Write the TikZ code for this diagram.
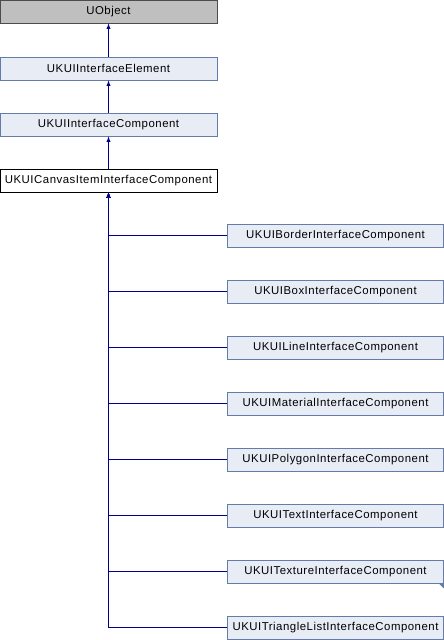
\documentclass[tikz,border=0pt]{standalone}
\usepackage{fontspec}
\setmainfont{Liberation Sans}[LetterSpace=4.5]
\usetikzlibrary{arrows,shapes}
\definecolor{boxfill}{RGB}{232,236,245}
\definecolor{boxline}{RGB}{100,124,170}
\definecolor{edgeblue}{RGB}{0,0,140}
\tikzstyle{cls}=[rectangle,draw=boxline,fill=boxfill,line width=0.8pt,inner sep=0pt,minimum height=23pt,font=\fontsize{11.4}{13}\selectfont]
\tikzstyle{topcls}=[cls,minimum width=217pt]
\tikzstyle{subcls}=[cls,minimum width=216pt]
\tikzstyle{inherit}=[<-,>=latex,draw=edgeblue,line width=0.9pt]

\begin{document}
\begin{tikzpicture}[x=1pt,y=-1pt]
\useasboundingbox (0,0) rectangle (444,640);
\node[topcls,draw=black!70,fill=black!25] (U) at (108.5,11.5) {UObject};
\node[topcls] (E) at (108.5,68.5) {UKUIInterfaceElement};
\node[topcls] (I) at (108.5,124.5) {UKUIInterfaceComponent};
\node[topcls,draw=black,fill=white] (C) at (108.5,180.5) {UKUICanvasItemInterfaceComponent};
\node[subcls] (Bo) at (335.5,235.5) {UKUIBorderInterfaceComponent};
\node[subcls] (Bx) at (335.5,291.5) {UKUIBoxInterfaceComponent};
\node[subcls] (Li) at (335.5,347.5) {UKUILineInterfaceComponent};
\node[subcls] (Ma) at (335.5,403.5) {UKUIMaterialInterfaceComponent};
\node[subcls] (Po) at (335.5,459.5) {UKUIPolygonInterfaceComponent};
\node[subcls] (Te) at (335.5,515.5) {UKUITextInterfaceComponent};
\node[subcls] (Tx) at (335.5,571.5) {UKUITextureInterfaceComponent};
\node[subcls] (Tr) at (335.5,627.5) {UKUITriangleListInterfaceComponent};
\fill[boxline] ([xshift=-5pt]Tx.south east)--(Tx.south east)--([yshift=-5pt]Tx.south east)--cycle;
\draw[inherit](U)--(E);\draw[inherit](E)--(I);\draw[inherit](I)--(C);
\draw[inherit](C)|-(Bo);\draw[inherit](C)|-(Bx);\draw[inherit](C)|-(Li);
\draw[inherit](C)|-(Ma);\draw[inherit](C)|-(Po);\draw[inherit](C)|-(Te);
\draw[inherit](C)|-(Tx);\draw[inherit](C)|-(Tr);
\end{tikzpicture}
\end{document}
